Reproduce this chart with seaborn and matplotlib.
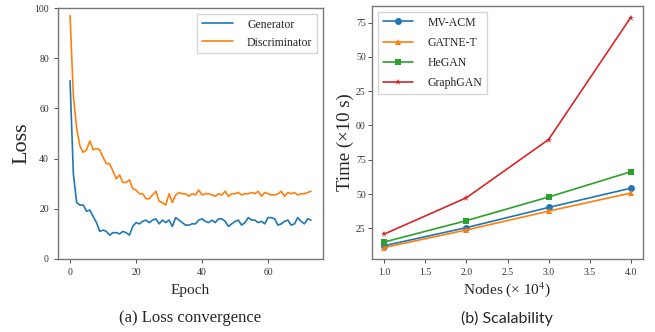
import numpy as np
import pandas as pd
import matplotlib.pyplot as plt
import seaborn as sns

# Loss convergence
generator_loss = [71, 34, 22.5, 21.5, 21.5, 19, 19.5, 17, 14.5, 11,
                  11.5, 11, 9.5, 10.5, 10.5, 10, 11, 10.5, 9.5, 13,
                  14.5, 14, 15, 15.5, 14.5, 15.5, 16, 14, 15.5, 14.5,
                  15.5, 13, 16.5, 15.5, 14.5, 13.5, 13.5, 14, 14, 15.5,
                  16, 15, 14.5, 15.5, 14.5, 16, 16, 15, 13, 14,
                  15, 15.5, 13.5, 14.5, 16.5, 15.5, 15.5, 14.5, 15, 14,
                  16.5, 16.5, 16, 13.5, 14, 15, 15.5, 13.5, 14, 16.5,
                  15, 14, 16, 15.5]
discriminator_loss = [97, 65, 52, 45, 42.5, 43.5, 47, 43.5, 44, 43.5,
                      40.5, 38, 38, 35, 32, 33.5, 30.5, 30.5, 31.5, 28,
                      27.5, 26, 26, 24, 24, 25.5, 27, 23, 22.5, 21.5,
                      26, 22.5, 25.5, 26.5, 26, 26, 25, 26, 25.5, 27.5,
                      25.5, 26, 26, 25.5, 25, 26, 25.5, 27, 25, 26,
                      26, 26.5, 25.5, 26, 26, 26.5, 26, 27, 25, 26.5,
                      26, 25.5, 25.5, 26, 27, 25, 26.5, 26, 26.5, 25.5,
                      26, 26, 26.5, 27]

# Scalability
nodes = [1.0, 2.0, 3.0, 4.0]
mv_acm = [12.3, 25.5, 40.2, 54.2]
gatne_t = [11, 23.8, 37.5, 50.7]
hegan = [15, 30.6, 47.8, 66.2]
graphgan = [20.8, 47.3, 89.7, 178.7]
time_ticks = [25, 50, 75, 100, 125, 150, 175]

sns.set_theme(style="ticks")
plt.rcParams['font.family'] = ['Liberation Serif', 'DejaVu Serif']
plt.rcParams['mathtext.fontset'] = 'stix'

colors = sns.color_palette("tab10")

fig = plt.figure(figsize=(6.55, 3.32), dpi=100)
ax1 = fig.add_axes([58 / 655, 1 - 259 / 332, 265 / 655, 251 / 332])
ax2 = fig.add_axes([372 / 655, 1 - 259 / 332, 271 / 655, 253 / 332])

# (a) Loss convergence
loss = pd.DataFrame({
    "epoch": list(range(len(generator_loss))) * 2,
    "loss": generator_loss + discriminator_loss,
    "model": ["Generator"] * len(generator_loss) + ["Discriminator"] * len(discriminator_loss),
})
sns.lineplot(data=loss, x="epoch", y="loss", hue="model", palette=colors[:2],
             linewidth=1.2, ax=ax1)
ax1.set_ylim(0, 100)
ax1.set_yticks([0, 20, 40, 60, 80, 100])
ax1.set_xticks([0, 20, 40, 60])
ax1.set_xlabel("Epoch", fontsize=11)
ax1.set_ylabel("Loss", fontsize=16)
ax1.xaxis.set_label_coords(0.5, -0.125, transform=ax1.transAxes)
ax1.yaxis.set_label_coords(-0.135, 0.46, transform=ax1.transAxes)
ax1.xaxis.label.set_va("center")
ax1.yaxis.label.set_va("center")
ax1.legend(loc="upper right", fontsize=8.5, frameon=True, fancybox=False,
           edgecolor="#cccccc", handlelength=2.6, handletextpad=1.2)

# (b) Scalability
scal = pd.DataFrame({
    "nodes": nodes * 4,
    "time": mv_acm + gatne_t + hegan + graphgan,
    "method": ["MV-ACM"] * 4 + ["GATNE-T"] * 4 + ["HeGAN"] * 4 + ["GraphGAN"] * 4,
})
sns.lineplot(data=scal, x="nodes", y="time", hue="method", style="method",
             markers=["o", "^", "s", "*"], dashes=False, palette=colors[:4],
             markersize=5, markeredgewidth=0, linewidth=1.2, ax=ax2)
ax2.set_yticks(time_ticks)
ax2.set_yticklabels([f"{t % 100:02d}" for t in time_ticks])
ax2.set_xticks([1.0, 1.5, 2.0, 2.5, 3.0, 3.5, 4.0])
ax2.set_xlabel("Nodes (\u00d7 10$^4$)", fontsize=11)
ax2.set_ylabel("Time (\u00d710 s)", fontsize=13.5)
ax2.xaxis.set_label_coords(0.5, -0.12, transform=ax2.transAxes)
ax2.yaxis.set_label_coords(-0.1, 0.46, transform=ax2.transAxes)
ax2.xaxis.label.set_va("center")
ax2.yaxis.label.set_va("center")
ax2.legend(loc="upper left", fontsize=8.5, frameon=True, fancybox=False,
           edgecolor="#cccccc", handlelength=2.6, handletextpad=1.2,
           labelspacing=0.7)

for ax in (ax1, ax2):
    ax.tick_params(labelsize=7, length=3, width=0.6, colors="#333333")
    for s in ax.spines.values():
        s.set_color("#777777")
        s.set_linewidth(1.0)
ax2.tick_params(axis="y", pad=1.5)

fig.text(190 / 655, 1 - 318 / 332, "(a) Loss convergence", ha="center", va="center",
         fontsize=12)
fig.text(507 / 655, 1 - 318 / 332, "(b) Scalability", ha="center", va="center",
         fontsize=11.5, family=["Lato", "DejaVu Sans"])

fig.savefig("out.png", dpi=100)
